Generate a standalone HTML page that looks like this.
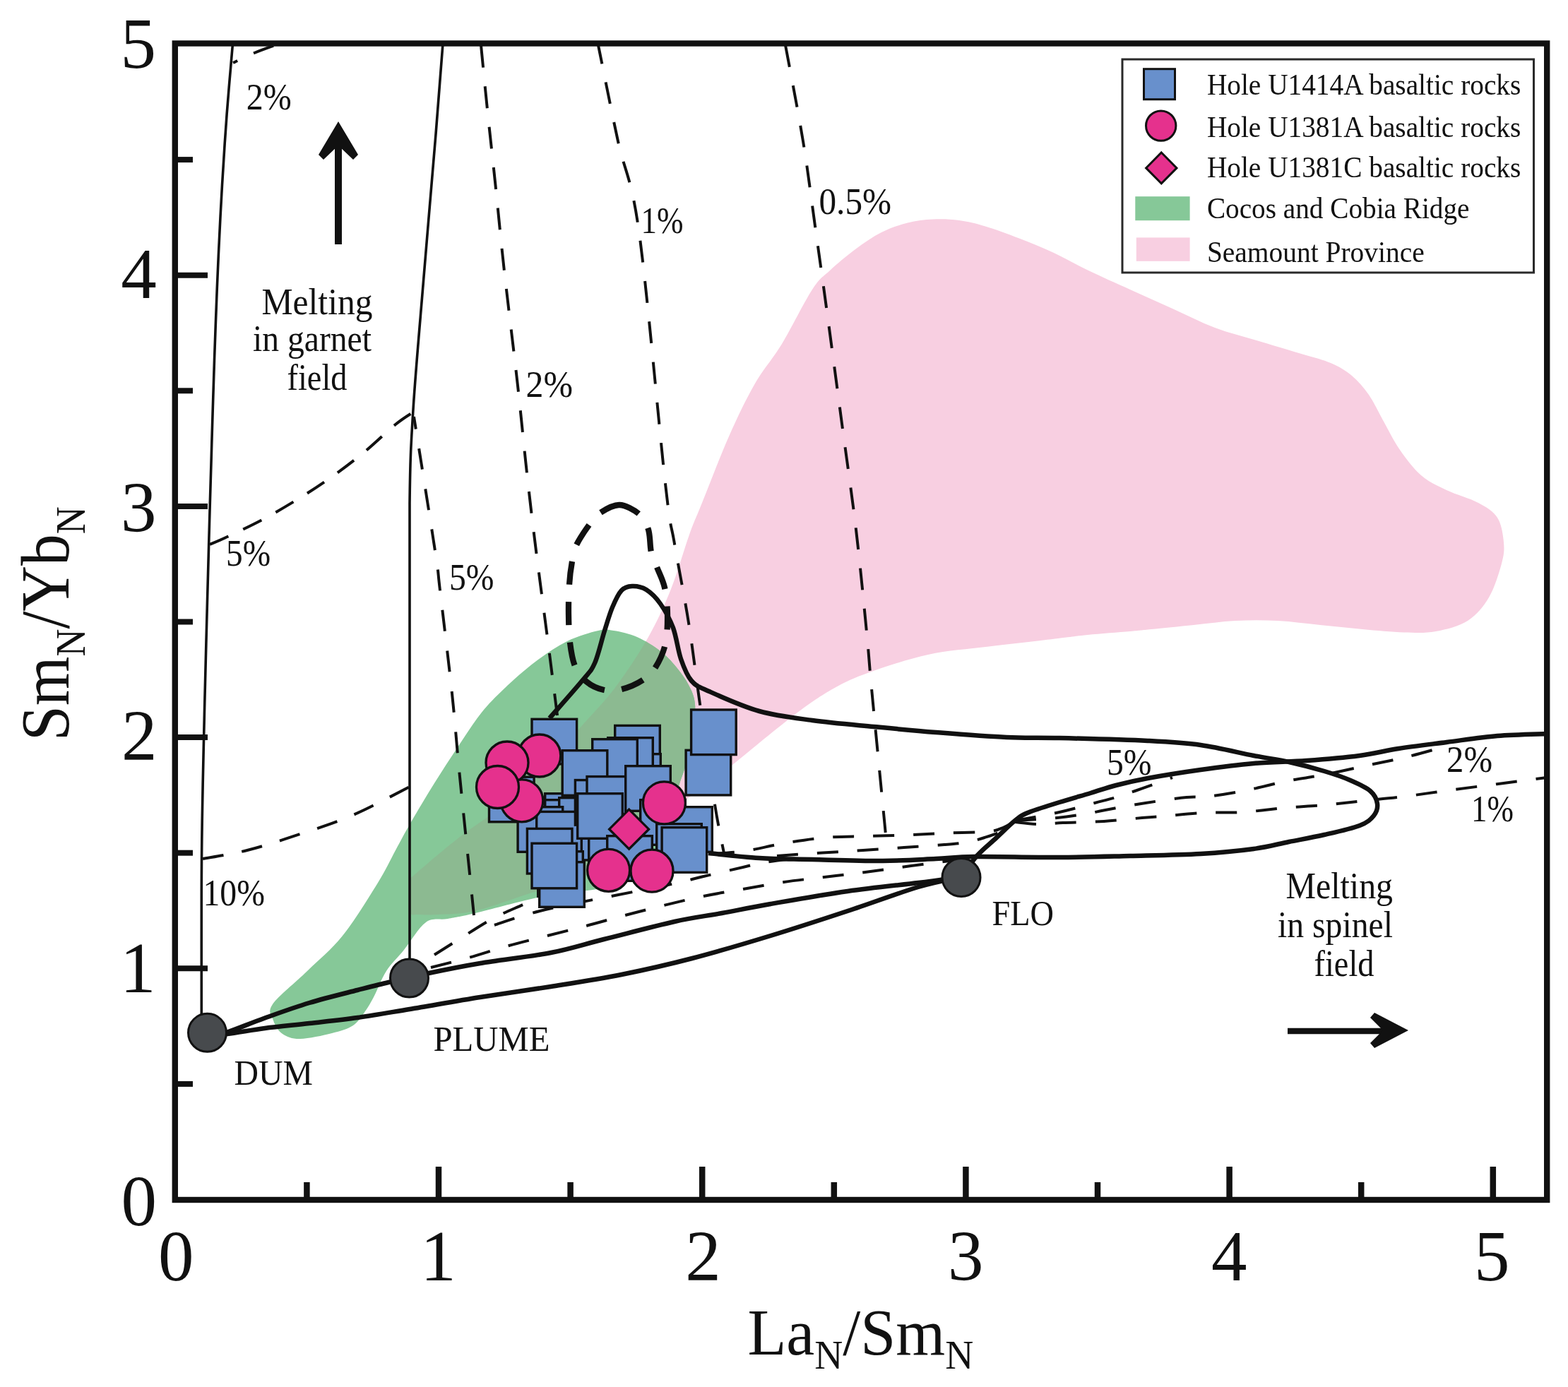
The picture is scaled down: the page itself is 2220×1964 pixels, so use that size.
<!DOCTYPE html>
<html><head><meta charset="utf-8"><title>La/Sm vs Sm/Yb</title>
<style>
html,body{margin:0;padding:0;background:#fff;}
svg{display:block;}
text{font-family:"Liberation Serif","Times New Roman",serif;fill:#111;}
</style></head><body>
<svg xmlns="http://www.w3.org/2000/svg" width="2220" height="1964" viewBox="0 0 2220 1964">
<rect width="2220" height="1964" fill="#fff"/>
<path d="M581.0,1293.0 C579.1,1288.8 580.5,1277.8 580.5,1270.0 C580.5,1262.2 579.4,1251.7 581.0,1246.0 C582.6,1240.3 577.7,1246.7 590.0,1236.0 C602.3,1225.3 630.8,1200.5 655.0,1182.0 C679.2,1163.5 712.5,1143.7 735.0,1125.0 C757.5,1106.3 775.8,1085.5 790.0,1070.0 C804.2,1054.5 806.7,1047.8 820.0,1032.0 C833.3,1016.2 853.7,996.7 870.0,975.0 C886.3,953.3 904.7,925.5 918.0,902.0 C931.3,878.5 940.3,858.2 950.0,834.0 C959.7,809.8 968.7,777.3 976.0,757.0 C983.3,736.7 984.7,735.2 994.0,712.0 C1003.3,688.8 1019.5,646.2 1032.0,618.0 C1044.5,589.8 1056.5,564.8 1069.0,543.0 C1081.5,521.2 1093.5,509.2 1107.0,487.0 C1120.5,464.8 1138.7,427.3 1150.0,410.0 C1161.3,392.7 1164.8,392.5 1175.0,383.0 C1185.2,373.5 1198.8,362.0 1211.0,353.0 C1223.2,344.0 1235.7,335.2 1248.0,329.0 C1260.3,322.8 1272.8,318.6 1285.0,315.5 C1297.2,312.4 1308.8,311.1 1321.0,310.5 C1333.2,309.9 1345.7,310.3 1358.0,312.0 C1370.3,313.7 1380.8,316.2 1395.0,320.5 C1409.2,324.8 1426.8,331.2 1443.0,337.5 C1459.2,343.8 1475.7,350.4 1492.0,358.0 C1508.3,365.6 1523.0,374.3 1541.0,383.0 C1559.0,391.7 1580.2,401.0 1600.0,410.0 C1619.8,419.0 1640.0,428.0 1660.0,437.0 C1680.0,446.0 1700.2,456.5 1720.0,464.0 C1739.8,471.5 1759.2,476.0 1779.0,482.0 C1798.8,488.0 1821.5,494.7 1839.0,500.0 C1856.5,505.3 1871.5,508.7 1884.0,514.0 C1896.5,519.3 1905.0,524.5 1914.0,532.0 C1923.0,539.5 1930.7,548.5 1938.0,559.0 C1945.3,569.5 1950.7,582.0 1958.0,595.0 C1965.3,608.0 1973.0,624.0 1982.0,637.0 C1991.0,650.0 2001.0,663.5 2012.0,673.0 C2023.0,682.5 2034.5,687.5 2048.0,694.0 C2061.5,700.5 2081.0,705.5 2093.0,712.0 C2105.0,718.5 2114.0,723.7 2120.0,733.0 C2126.0,742.3 2128.0,757.2 2129.0,768.0 C2130.0,778.8 2129.5,785.0 2126.0,798.0 C2122.5,811.0 2116.0,832.5 2108.0,846.0 C2100.0,859.5 2090.5,871.0 2078.0,879.0 C2065.5,887.0 2048.0,891.2 2033.0,894.0 C2018.0,896.8 2005.3,896.0 1988.0,895.5 C1970.7,895.0 1948.8,892.8 1929.0,891.0 C1909.2,889.2 1889.0,887.0 1869.0,885.0 C1849.0,883.0 1829.0,880.0 1809.0,879.0 C1789.0,878.0 1768.8,878.0 1749.0,879.0 C1729.2,880.0 1709.8,883.0 1690.0,885.0 C1670.2,887.0 1645.0,889.5 1630.0,891.0 C1615.0,892.5 1615.0,892.7 1600.0,894.0 C1585.0,895.3 1557.0,897.3 1540.0,899.0 C1523.0,900.7 1521.3,901.2 1498.0,904.0 C1474.7,906.8 1430.7,911.8 1400.0,915.6 C1369.3,919.4 1342.2,920.9 1314.0,927.0 C1285.8,933.1 1253.3,944.0 1231.0,952.0 C1208.7,960.0 1197.7,965.0 1180.0,975.0 C1162.3,985.0 1148.8,994.0 1125.0,1012.0 C1101.2,1030.0 1057.8,1066.3 1037.0,1083.0 C1016.2,1099.7 1011.5,1103.3 1000.0,1112.0 C988.5,1120.7 979.7,1125.3 968.0,1135.0 C956.3,1144.7 944.7,1156.7 930.0,1170.0 C915.3,1183.3 901.7,1201.7 880.0,1215.0 C858.3,1228.3 821.7,1241.7 800.0,1250.0 C778.3,1258.3 771.3,1258.3 750.0,1265.0 C728.7,1271.7 693.7,1285.0 672.0,1290.0 C650.3,1295.0 633.3,1294.2 620.0,1295.0 C606.7,1295.8 598.5,1295.3 592.0,1295.0 C585.5,1294.7 582.9,1297.2 581.0,1293.0Z" fill="#f8cfe1"/>
<defs><clipPath id="gclip"><path d="M386.0,1422.0 C394.0,1410.3 418.5,1391.2 435.0,1375.0 C451.5,1358.8 468.3,1345.8 485.0,1325.0 C501.7,1304.2 522.5,1270.2 535.0,1250.0 C547.5,1229.8 552.2,1218.3 560.0,1204.0 C567.8,1189.7 572.8,1179.8 582.0,1164.0 C591.2,1148.2 604.0,1126.7 615.0,1109.0 C626.0,1091.3 637.0,1074.5 648.0,1058.0 C659.0,1041.5 670.0,1023.8 681.0,1010.0 C692.0,996.2 701.2,987.2 714.0,975.0 C726.8,962.8 743.2,948.2 758.0,937.0 C772.8,925.8 788.2,915.3 803.0,908.0 C817.8,900.7 836.0,895.5 847.0,893.0 C858.0,890.5 859.8,891.5 869.0,893.0 C878.2,894.5 891.0,897.2 902.0,902.0 C913.0,906.8 925.8,915.0 935.0,922.0 C944.2,929.0 950.3,936.0 957.0,944.0 C963.7,952.0 970.5,961.2 975.0,970.0 C979.5,978.8 983.0,985.3 984.0,997.0 C985.0,1008.7 983.0,1026.2 981.0,1040.0 C979.0,1053.8 975.2,1068.3 972.0,1080.0 C968.8,1091.7 965.7,1098.3 962.0,1110.0 C958.3,1121.7 955.3,1135.0 950.0,1150.0 C944.7,1165.0 938.3,1185.0 930.0,1200.0 C921.7,1215.0 913.3,1230.3 900.0,1240.0 C886.7,1249.7 866.7,1254.0 850.0,1258.0 C833.3,1262.0 816.3,1261.5 800.0,1264.0 C783.7,1266.5 773.2,1268.2 752.0,1273.0 C730.8,1277.8 692.7,1288.3 673.0,1293.0 C653.3,1297.7 645.7,1298.8 634.0,1301.0 C622.3,1303.2 613.3,1298.7 603.0,1306.0 C592.7,1313.3 581.3,1333.5 572.0,1345.0 C562.7,1356.5 554.0,1364.2 547.0,1375.0 C540.0,1385.8 535.0,1400.5 530.0,1410.0 C525.0,1419.5 522.0,1425.0 517.0,1432.0 C512.0,1439.0 507.8,1446.8 500.0,1452.0 C492.2,1457.2 482.5,1459.8 470.0,1463.0 C457.5,1466.2 436.7,1470.8 425.0,1471.0 C413.3,1471.2 406.3,1468.3 400.0,1464.0 C393.7,1459.7 389.3,1452.0 387.0,1445.0 C384.7,1438.0 378.0,1433.7 386.0,1422.0Z"/></clipPath></defs>
<path d="M386.0,1422.0 C394.0,1410.3 418.5,1391.2 435.0,1375.0 C451.5,1358.8 468.3,1345.8 485.0,1325.0 C501.7,1304.2 522.5,1270.2 535.0,1250.0 C547.5,1229.8 552.2,1218.3 560.0,1204.0 C567.8,1189.7 572.8,1179.8 582.0,1164.0 C591.2,1148.2 604.0,1126.7 615.0,1109.0 C626.0,1091.3 637.0,1074.5 648.0,1058.0 C659.0,1041.5 670.0,1023.8 681.0,1010.0 C692.0,996.2 701.2,987.2 714.0,975.0 C726.8,962.8 743.2,948.2 758.0,937.0 C772.8,925.8 788.2,915.3 803.0,908.0 C817.8,900.7 836.0,895.5 847.0,893.0 C858.0,890.5 859.8,891.5 869.0,893.0 C878.2,894.5 891.0,897.2 902.0,902.0 C913.0,906.8 925.8,915.0 935.0,922.0 C944.2,929.0 950.3,936.0 957.0,944.0 C963.7,952.0 970.5,961.2 975.0,970.0 C979.5,978.8 983.0,985.3 984.0,997.0 C985.0,1008.7 983.0,1026.2 981.0,1040.0 C979.0,1053.8 975.2,1068.3 972.0,1080.0 C968.8,1091.7 965.7,1098.3 962.0,1110.0 C958.3,1121.7 955.3,1135.0 950.0,1150.0 C944.7,1165.0 938.3,1185.0 930.0,1200.0 C921.7,1215.0 913.3,1230.3 900.0,1240.0 C886.7,1249.7 866.7,1254.0 850.0,1258.0 C833.3,1262.0 816.3,1261.5 800.0,1264.0 C783.7,1266.5 773.2,1268.2 752.0,1273.0 C730.8,1277.8 692.7,1288.3 673.0,1293.0 C653.3,1297.7 645.7,1298.8 634.0,1301.0 C622.3,1303.2 613.3,1298.7 603.0,1306.0 C592.7,1313.3 581.3,1333.5 572.0,1345.0 C562.7,1356.5 554.0,1364.2 547.0,1375.0 C540.0,1385.8 535.0,1400.5 530.0,1410.0 C525.0,1419.5 522.0,1425.0 517.0,1432.0 C512.0,1439.0 507.8,1446.8 500.0,1452.0 C492.2,1457.2 482.5,1459.8 470.0,1463.0 C457.5,1466.2 436.7,1470.8 425.0,1471.0 C413.3,1471.2 406.3,1468.3 400.0,1464.0 C393.7,1459.7 389.3,1452.0 387.0,1445.0 C384.7,1438.0 378.0,1433.7 386.0,1422.0Z" fill="#86c898"/>
<path d="M581.0,1293.0 C579.1,1288.8 580.5,1277.8 580.5,1270.0 C580.5,1262.2 579.4,1251.7 581.0,1246.0 C582.6,1240.3 577.7,1246.7 590.0,1236.0 C602.3,1225.3 630.8,1200.5 655.0,1182.0 C679.2,1163.5 712.5,1143.7 735.0,1125.0 C757.5,1106.3 775.8,1085.5 790.0,1070.0 C804.2,1054.5 806.7,1047.8 820.0,1032.0 C833.3,1016.2 853.7,996.7 870.0,975.0 C886.3,953.3 904.7,925.5 918.0,902.0 C931.3,878.5 940.3,858.2 950.0,834.0 C959.7,809.8 968.7,777.3 976.0,757.0 C983.3,736.7 984.7,735.2 994.0,712.0 C1003.3,688.8 1019.5,646.2 1032.0,618.0 C1044.5,589.8 1056.5,564.8 1069.0,543.0 C1081.5,521.2 1093.5,509.2 1107.0,487.0 C1120.5,464.8 1138.7,427.3 1150.0,410.0 C1161.3,392.7 1164.8,392.5 1175.0,383.0 C1185.2,373.5 1198.8,362.0 1211.0,353.0 C1223.2,344.0 1235.7,335.2 1248.0,329.0 C1260.3,322.8 1272.8,318.6 1285.0,315.5 C1297.2,312.4 1308.8,311.1 1321.0,310.5 C1333.2,309.9 1345.7,310.3 1358.0,312.0 C1370.3,313.7 1380.8,316.2 1395.0,320.5 C1409.2,324.8 1426.8,331.2 1443.0,337.5 C1459.2,343.8 1475.7,350.4 1492.0,358.0 C1508.3,365.6 1523.0,374.3 1541.0,383.0 C1559.0,391.7 1580.2,401.0 1600.0,410.0 C1619.8,419.0 1640.0,428.0 1660.0,437.0 C1680.0,446.0 1700.2,456.5 1720.0,464.0 C1739.8,471.5 1759.2,476.0 1779.0,482.0 C1798.8,488.0 1821.5,494.7 1839.0,500.0 C1856.5,505.3 1871.5,508.7 1884.0,514.0 C1896.5,519.3 1905.0,524.5 1914.0,532.0 C1923.0,539.5 1930.7,548.5 1938.0,559.0 C1945.3,569.5 1950.7,582.0 1958.0,595.0 C1965.3,608.0 1973.0,624.0 1982.0,637.0 C1991.0,650.0 2001.0,663.5 2012.0,673.0 C2023.0,682.5 2034.5,687.5 2048.0,694.0 C2061.5,700.5 2081.0,705.5 2093.0,712.0 C2105.0,718.5 2114.0,723.7 2120.0,733.0 C2126.0,742.3 2128.0,757.2 2129.0,768.0 C2130.0,778.8 2129.5,785.0 2126.0,798.0 C2122.5,811.0 2116.0,832.5 2108.0,846.0 C2100.0,859.5 2090.5,871.0 2078.0,879.0 C2065.5,887.0 2048.0,891.2 2033.0,894.0 C2018.0,896.8 2005.3,896.0 1988.0,895.5 C1970.7,895.0 1948.8,892.8 1929.0,891.0 C1909.2,889.2 1889.0,887.0 1869.0,885.0 C1849.0,883.0 1829.0,880.0 1809.0,879.0 C1789.0,878.0 1768.8,878.0 1749.0,879.0 C1729.2,880.0 1709.8,883.0 1690.0,885.0 C1670.2,887.0 1645.0,889.5 1630.0,891.0 C1615.0,892.5 1615.0,892.7 1600.0,894.0 C1585.0,895.3 1557.0,897.3 1540.0,899.0 C1523.0,900.7 1521.3,901.2 1498.0,904.0 C1474.7,906.8 1430.7,911.8 1400.0,915.6 C1369.3,919.4 1342.2,920.9 1314.0,927.0 C1285.8,933.1 1253.3,944.0 1231.0,952.0 C1208.7,960.0 1197.7,965.0 1180.0,975.0 C1162.3,985.0 1148.8,994.0 1125.0,1012.0 C1101.2,1030.0 1057.8,1066.3 1037.0,1083.0 C1016.2,1099.7 1011.5,1103.3 1000.0,1112.0 C988.5,1120.7 979.7,1125.3 968.0,1135.0 C956.3,1144.7 944.7,1156.7 930.0,1170.0 C915.3,1183.3 901.7,1201.7 880.0,1215.0 C858.3,1228.3 821.7,1241.7 800.0,1250.0 C778.3,1258.3 771.3,1258.3 750.0,1265.0 C728.7,1271.7 693.7,1285.0 672.0,1290.0 C650.3,1295.0 633.3,1294.2 620.0,1295.0 C606.7,1295.8 598.5,1295.3 592.0,1295.0 C585.5,1294.7 582.9,1297.2 581.0,1293.0Z" fill="#8cba91" clip-path="url(#gclip)"/>
<path d="M329.5,62.0 C328.1,78.7 323.6,128.7 321.1,162.0 C318.6,195.3 316.5,228.7 314.5,262.0 C312.5,295.3 310.9,328.7 309.3,362.0 C307.8,395.3 306.4,428.7 305.2,462.0 C303.9,495.3 302.9,528.7 301.8,562.0 C300.7,595.3 299.8,628.7 298.8,662.0 C297.8,695.3 296.8,728.7 295.9,762.0 C295.0,795.3 294.1,828.7 293.2,862.0 C292.3,895.3 291.4,928.7 290.6,962.0 C289.8,995.3 288.9,1028.7 288.2,1062.0 C287.5,1095.3 286.7,1128.7 286.2,1162.0 C285.7,1195.3 285.4,1215.7 285.3,1262.0 C285.2,1308.3 285.3,1410.3 285.3,1440.0" fill="none" stroke="#111" stroke-width="3.6" stroke-linecap="butt"/>
<path d="M627.0,62.0 C625.3,83.3 621.5,135.0 617.0,190.0 C612.5,245.0 605.3,327.0 600.0,392.0 C594.7,457.0 588.3,526.5 585.0,580.0 C581.7,633.5 580.8,646.0 580.0,713.0 C579.2,780.0 580.0,874.2 580.0,982.0 C580.0,1089.8 580.0,1297.0 580.0,1360.0" fill="none" stroke="#111" stroke-width="3.6" stroke-linecap="butt"/>
<path d="M681.0,64.0 C682.5,79.2 686.5,121.2 690.0,155.0 C693.5,188.8 698.0,228.8 702.0,267.0 C706.0,305.2 708.8,337.5 714.0,384.0 C719.2,430.5 727.7,498.3 733.0,546.0 C738.3,593.7 741.7,631.0 746.0,670.0 C750.3,709.0 754.3,742.5 759.0,780.0 C763.7,817.5 769.3,858.8 774.0,895.0 C778.7,931.2 783.5,969.5 787.0,997.0 C790.5,1024.5 793.7,1049.5 795.0,1060.0" fill="none" stroke="#111" stroke-width="4" stroke-dasharray="31 26.7" stroke-dashoffset="56.8"/>
<path d="M586.0,590.0 C591.0,621.7 609.8,739.0 616.0,780.0 C622.2,821.0 619.0,802.3 623.0,836.0 C627.0,869.7 635.3,938.0 640.0,982.0 C644.7,1026.0 645.8,1047.7 651.0,1100.0 C656.2,1152.3 667.7,1263.3 671.0,1296.0" fill="none" stroke="#111" stroke-width="4" stroke-dasharray="30 27.8" stroke-dashoffset="12.0"/>
<path d="M847.0,64.0 C851.7,86.7 865.3,155.7 875.0,200.0 C884.7,244.3 893.8,249.2 905.0,330.0 C916.2,410.8 933.7,611.7 942.0,685.0 C950.3,758.3 949.5,737.2 955.0,770.0 C960.5,802.8 969.0,844.2 975.0,882.0 C981.0,919.8 984.8,954.2 991.0,997.0 C997.2,1039.8 1006.3,1103.8 1012.0,1139.0 C1017.7,1174.2 1022.8,1196.5 1025.0,1208.0" fill="none" stroke="#111" stroke-width="4" stroke-dasharray="31 26.5" stroke-dashoffset="3.9"/>
<path d="M1112.0,64.0 C1116.2,86.7 1130.0,157.3 1137.0,200.0 C1144.0,242.7 1148.2,278.3 1154.0,320.0 C1159.8,361.7 1165.7,403.3 1172.0,450.0 C1178.3,496.7 1185.3,550.0 1192.0,600.0 C1198.7,650.0 1206.2,700.8 1212.0,750.0 C1217.8,799.2 1223.3,857.5 1227.0,895.0 C1230.7,932.5 1229.5,927.2 1234.0,975.0 C1238.5,1022.8 1250.7,1147.5 1254.0,1182.0" fill="none" stroke="#111" stroke-width="4" stroke-dasharray="31 26.5" stroke-dashoffset="56.8"/>
<path d="M330.0,89.0 C335.0,86.7 349.7,79.3 360.0,75.0 C370.3,70.7 386.7,65.0 392.0,63.0" fill="none" stroke="#111" stroke-width="4" stroke-dasharray="7 25 30 27"/>
<path d="M297.0,771.0 C301.2,769.2 309.3,766.0 322.0,760.0 C334.7,754.0 356.2,744.0 373.0,735.0 C389.8,726.0 406.8,716.0 423.0,706.0 C439.2,696.0 454.5,686.0 470.0,675.0 C485.5,664.0 501.0,652.3 516.0,640.0 C531.0,627.7 548.3,610.5 560.0,601.0 C571.7,591.5 581.7,586.0 586.0,583.0" fill="none" stroke="#111" stroke-width="4" stroke-dasharray="29 23" stroke-dashoffset="0.0"/>
<path d="M287.0,1216.0 C297.5,1214.0 327.0,1209.8 350.0,1204.0 C373.0,1198.2 400.0,1189.3 425.0,1181.0 C450.0,1172.7 474.2,1165.2 500.0,1154.0 C525.8,1142.8 566.7,1120.7 580.0,1114.0" fill="none" stroke="#111" stroke-width="4" stroke-dasharray="30 26" stroke-dashoffset="0.0"/>
<path d="M615.0,1352.0 C620.8,1348.3 636.0,1338.7 650.0,1330.0 C664.0,1321.3 682.2,1309.0 699.0,1300.0 C715.8,1291.0 734.2,1284.3 751.0,1276.0 C767.8,1267.7 791.8,1254.3 800.0,1250.0" fill="none" stroke="#111" stroke-width="4" stroke-dasharray="30 27"/>
<path d="M610.0,1370.0 C619.0,1367.7 646.2,1361.0 664.0,1356.0 C681.8,1351.0 698.5,1345.2 717.0,1340.0 C735.5,1334.8 756.2,1329.8 775.0,1325.0 C793.8,1320.2 811.7,1315.8 830.0,1311.0 C848.3,1306.2 866.7,1300.8 885.0,1296.0 C903.3,1291.2 921.5,1286.5 940.0,1282.0 C958.5,1277.5 977.3,1272.8 996.0,1269.0 C1014.7,1265.2 1033.0,1262.3 1052.0,1259.0 C1071.0,1255.7 1090.8,1251.8 1110.0,1249.0 C1129.2,1246.2 1147.8,1244.3 1167.0,1242.0 C1186.2,1239.7 1204.5,1237.7 1225.0,1235.0 C1245.5,1232.3 1267.3,1229.0 1290.0,1226.0 C1312.7,1223.0 1349.2,1218.5 1361.0,1217.0" fill="none" stroke="#111" stroke-width="4" stroke-dasharray="30 27"/>
<path d="M700.0,1310.0 C707.7,1307.5 729.3,1299.7 746.0,1295.0 C762.7,1290.3 767.5,1288.8 800.0,1282.0 C832.5,1275.2 908.3,1260.8 941.0,1254.0 C973.7,1247.2 977.5,1245.3 996.0,1241.0 C1014.5,1236.7 1037.5,1231.3 1052.0,1228.0 C1066.5,1224.7 1068.3,1223.3 1083.0,1221.0 C1097.7,1218.7 1130.5,1215.2 1140.0,1214.0" fill="none" stroke="#111" stroke-width="4" stroke-dasharray="30 27"/>
<path d="M1010.0,1209.0 C1017.5,1208.3 1038.2,1207.5 1055.0,1205.0 C1071.8,1202.5 1092.0,1197.2 1111.0,1194.0 C1130.0,1190.8 1149.8,1187.7 1169.0,1186.0 C1188.2,1184.3 1206.8,1184.6 1226.0,1184.0 C1245.2,1183.4 1264.8,1183.2 1284.0,1182.5 C1303.2,1181.8 1321.8,1180.3 1341.0,1179.5 C1360.2,1178.7 1385.8,1178.8 1399.0,1177.5 C1412.2,1176.2 1413.7,1174.4 1420.0,1172.0 C1426.3,1169.6 1434.2,1164.5 1437.0,1163.0" fill="none" stroke="#111" stroke-width="4" stroke-dasharray="30 27"/>
<path d="M1100.0,1212.0 C1110.8,1211.2 1144.7,1208.8 1165.0,1207.5 C1185.3,1206.2 1202.8,1205.2 1222.0,1204.0 C1241.2,1202.8 1260.8,1201.3 1280.0,1200.0 C1299.2,1198.7 1322.2,1197.2 1337.0,1196.0 C1351.8,1194.8 1359.5,1194.2 1369.0,1192.5 C1378.5,1190.8 1385.8,1188.6 1394.0,1186.0 C1402.2,1183.4 1410.8,1180.8 1418.0,1177.0 C1425.2,1173.2 1433.8,1165.3 1437.0,1163.0" fill="none" stroke="#111" stroke-width="4" stroke-dasharray="30 27"/>
<path d="M1437.0,1164.0 C1442.5,1164.5 1458.7,1166.8 1470.0,1167.0 C1481.3,1167.2 1489.5,1165.7 1505.0,1165.0 C1520.5,1164.3 1544.3,1164.2 1563.0,1163.0 C1581.7,1161.8 1603.3,1159.2 1617.0,1158.0 C1630.7,1156.8 1630.8,1157.2 1645.0,1156.0 C1659.2,1154.8 1682.8,1152.0 1702.0,1151.0 C1721.2,1150.0 1740.8,1151.2 1760.0,1150.0 C1779.2,1148.8 1797.8,1145.7 1817.0,1144.0 C1836.2,1142.3 1856.2,1141.7 1875.0,1140.0 C1893.8,1138.3 1911.3,1136.0 1930.0,1134.0 C1948.7,1132.0 1965.3,1130.7 1987.0,1128.0 C2008.7,1125.3 2026.2,1122.5 2060.0,1118.0 C2093.8,1113.5 2168.3,1103.8 2190.0,1101.0" fill="none" stroke="#111" stroke-width="4" stroke-dasharray="30 27"/>
<path d="M1437.0,1162.0 C1447.0,1161.3 1479.8,1159.7 1497.0,1158.0 C1514.2,1156.3 1528.7,1153.8 1540.0,1152.0 C1551.3,1150.2 1551.3,1149.5 1565.0,1147.0 C1578.7,1144.5 1602.8,1140.0 1622.0,1137.0 C1641.2,1134.0 1665.3,1130.5 1680.0,1129.0 C1694.7,1127.5 1695.8,1129.7 1710.0,1128.0 C1724.2,1126.3 1746.3,1122.7 1765.0,1119.0 C1783.7,1115.3 1803.7,1109.7 1822.0,1106.0 C1840.3,1102.3 1856.2,1100.7 1875.0,1097.0 C1893.8,1093.3 1915.7,1088.2 1935.0,1084.0 C1954.3,1079.8 1973.0,1076.3 1991.0,1072.0 C2009.0,1067.7 2034.3,1060.3 2043.0,1058.0" fill="none" stroke="#111" stroke-width="4" stroke-dasharray="30 27"/>
<path d="M1437.0,1162.0 C1447.5,1160.0 1481.2,1154.2 1500.0,1150.0 C1518.8,1145.8 1536.7,1140.5 1550.0,1137.0 C1563.3,1133.5 1570.5,1131.8 1580.0,1129.0 C1589.5,1126.2 1597.8,1123.2 1607.0,1120.0 C1616.2,1116.8 1626.2,1113.2 1635.0,1110.0 C1643.8,1106.8 1655.8,1102.5 1660.0,1101.0" fill="none" stroke="#111" stroke-width="4" stroke-dasharray="30 27"/>
<path d="M306.0,1464.0 C308.7,1463.6 310.5,1465.2 322.0,1461.5 C333.5,1457.8 355.7,1448.4 375.0,1441.5 C394.3,1434.6 416.2,1426.6 438.0,1420.0 C459.8,1413.4 487.3,1406.8 506.0,1402.0 C524.7,1397.2 537.7,1393.8 550.0,1391.0 C562.3,1388.2 575.0,1386.0 580.0,1385.0" fill="none" stroke="#111" stroke-width="6.5" stroke-linejoin="round"/>
<path d="M580.0,1385.0 C584.5,1383.8 590.3,1381.5 607.0,1378.0 C623.7,1374.5 651.2,1368.8 680.0,1364.0 C708.8,1359.2 750.8,1354.7 780.0,1349.0 C809.2,1343.3 825.8,1337.3 855.0,1330.0 C884.2,1322.7 927.2,1311.2 955.0,1305.0 C982.8,1298.8 999.3,1297.2 1022.0,1293.0 C1044.7,1288.8 1061.3,1285.2 1091.0,1280.0 C1120.7,1274.8 1165.2,1267.0 1200.0,1262.0 C1234.8,1257.0 1273.2,1253.3 1300.0,1250.0 C1326.8,1246.7 1350.8,1243.3 1361.0,1242.0" fill="none" stroke="#111" stroke-width="6.5" stroke-linejoin="round"/>
<path d="M300.0,1464.0 C303.7,1464.0 309.5,1465.3 322.0,1464.0 C334.5,1462.7 355.7,1458.5 375.0,1456.0 C394.3,1453.5 416.2,1451.5 438.0,1449.0 C459.8,1446.5 482.3,1444.3 506.0,1441.0 C529.7,1437.7 551.0,1433.8 580.0,1429.0 C609.0,1424.2 646.7,1417.3 680.0,1412.0 C713.3,1406.7 746.7,1402.3 780.0,1397.0 C813.3,1391.7 846.7,1386.7 880.0,1380.0 C913.3,1373.3 944.8,1366.2 980.0,1357.0 C1015.2,1347.8 1054.3,1336.2 1091.0,1325.0 C1127.7,1313.8 1165.2,1301.5 1200.0,1290.0 C1234.8,1278.5 1273.2,1264.0 1300.0,1256.0 C1326.8,1248.0 1350.8,1244.3 1361.0,1242.0" fill="none" stroke="#111" stroke-width="6.5" stroke-linejoin="round"/>
<path d="M778.0,1017.0 C785.8,1008.0 814.3,976.0 825.0,963.0 C835.7,950.0 836.8,950.7 842.0,939.0 C847.2,927.3 851.8,906.2 856.0,893.0 C860.2,879.8 863.0,869.5 867.0,860.0 C871.0,850.5 875.3,841.0 880.0,836.0 C884.7,831.0 889.2,830.2 895.0,830.0 C900.8,829.8 908.3,830.8 915.0,835.0 C921.7,839.2 928.7,846.0 935.0,855.0 C941.3,864.0 948.2,876.0 953.0,889.0 C957.8,902.0 959.7,920.5 964.0,933.0 C968.3,945.5 972.3,956.3 979.0,964.0 C985.7,971.7 988.0,971.8 1004.0,979.0 C1020.0,986.2 1050.7,1000.2 1075.0,1007.0 C1099.3,1013.8 1123.0,1016.3 1150.0,1020.0 C1177.0,1023.7 1207.8,1026.2 1237.0,1029.0 C1266.2,1031.8 1293.7,1034.5 1325.0,1037.0 C1356.3,1039.5 1395.8,1042.7 1425.0,1044.0 C1454.2,1045.3 1466.7,1044.2 1500.0,1045.0 C1533.3,1045.8 1591.7,1047.3 1625.0,1049.0 C1658.3,1050.7 1675.0,1051.5 1700.0,1055.0 C1725.0,1058.5 1754.2,1066.0 1775.0,1070.0 C1795.8,1074.0 1808.3,1075.3 1825.0,1079.0 C1841.7,1082.7 1860.5,1087.7 1875.0,1092.0 C1889.5,1096.3 1901.2,1100.3 1912.0,1105.0 C1922.8,1109.7 1933.7,1114.5 1940.0,1120.0 C1946.3,1125.5 1949.2,1132.2 1950.0,1138.0 C1950.8,1143.8 1949.2,1149.8 1945.0,1155.0 C1940.8,1160.2 1936.7,1164.5 1925.0,1169.0 C1913.3,1173.5 1891.7,1178.2 1875.0,1182.0 C1858.3,1185.8 1841.7,1188.7 1825.0,1192.0 C1808.3,1195.3 1795.8,1199.2 1775.0,1202.0 C1754.2,1204.8 1729.2,1207.3 1700.0,1209.0 C1670.8,1210.7 1633.3,1211.2 1600.0,1212.0 C1566.7,1212.8 1536.7,1213.8 1500.0,1214.0 C1463.3,1214.2 1409.2,1212.7 1380.0,1213.0 C1350.8,1213.3 1346.7,1215.0 1325.0,1216.0 C1303.3,1217.0 1279.2,1218.8 1250.0,1219.0 C1220.8,1219.2 1179.2,1217.7 1150.0,1217.0 C1120.8,1216.3 1099.5,1216.5 1075.0,1215.0 C1050.5,1213.5 1015.0,1209.2 1003.0,1208.0" fill="none" stroke="#111" stroke-width="6.5" stroke-linejoin="round"/>
<path d="M1361.0,1242.0 C1364.7,1237.0 1374.8,1221.2 1383.0,1212.0 C1391.2,1202.8 1401.0,1195.3 1410.0,1187.0 C1419.0,1178.7 1429.3,1168.1 1437.0,1162.0 C1444.7,1155.9 1445.5,1154.8 1456.0,1150.5 C1466.5,1146.2 1485.3,1140.6 1500.0,1136.0 C1514.7,1131.4 1530.7,1127.0 1544.0,1123.0 C1557.3,1119.0 1566.5,1115.5 1580.0,1112.0 C1593.5,1108.5 1605.0,1105.7 1625.0,1102.0 C1645.0,1098.3 1675.0,1093.5 1700.0,1090.0 C1725.0,1086.5 1750.0,1083.2 1775.0,1081.0 C1800.0,1078.8 1825.0,1078.8 1850.0,1077.0 C1875.0,1075.2 1903.3,1072.8 1925.0,1070.0 C1946.7,1067.2 1959.5,1063.2 1980.0,1060.0 C2000.5,1056.8 2024.7,1054.0 2048.0,1051.0 C2071.3,1048.0 2096.3,1044.0 2120.0,1042.0 C2143.7,1040.0 2178.3,1039.5 2190.0,1039.0" fill="none" stroke="#111" stroke-width="6.5" stroke-linejoin="round"/>
<path d="M877.0,715.0 C886.2,715.3 898.2,722.2 905.0,728.0 C911.8,733.8 915.2,741.0 918.0,750.0 C920.8,759.0 920.0,773.2 922.0,782.0 C924.0,790.8 926.8,794.7 930.0,803.0 C933.2,811.3 938.5,820.8 941.0,832.0 C943.5,843.2 944.8,856.7 945.0,870.0 C945.2,883.3 944.8,899.5 942.0,912.0 C939.2,924.5 933.3,936.5 928.0,945.0 C922.7,953.5 918.0,957.8 910.0,963.0 C902.0,968.2 889.2,973.7 880.0,976.0 C870.8,978.3 863.3,978.8 855.0,977.0 C846.7,975.2 836.8,970.7 830.0,965.0 C823.2,959.3 817.8,952.2 814.0,943.0 C810.2,933.8 808.5,922.2 807.0,910.0 C805.5,897.8 805.2,883.7 805.0,870.0 C804.8,856.3 805.2,840.5 806.0,828.0 C806.8,815.5 808.3,804.3 810.0,795.0 C811.7,785.7 811.8,780.8 816.0,772.0 C820.2,763.2 829.3,749.7 835.0,742.0 C840.7,734.3 843.0,730.5 850.0,726.0 C857.0,721.5 867.8,714.7 877.0,715.0Z" fill="none" stroke="#111" stroke-width="8.3" stroke-dasharray="33 24.5" stroke-dashoffset="2.7"/>
<line x1="479" y1="346" x2="479" y2="200" stroke="#111" stroke-width="10"/>
<path d="M479,172 L507,219 L500,226 L479,206 L458,226 L451,219 Z" fill="#111"/>
<line x1="1823" y1="1460" x2="1965" y2="1460" stroke="#111" stroke-width="8.5"/>
<path d="M1994,1459 L1946,1484 L1940,1477 L1958,1459 L1940,1441 L1946,1434 Z" fill="#111"/>
<rect x="771.7" y="1123.7" width="63.6" height="63.6" fill="#6890cc" stroke="#111" stroke-width="3.4"/>
<rect x="771.7" y="1132.7" width="63.6" height="63.6" fill="#6890cc" stroke="#111" stroke-width="3.4"/>
<rect x="791.7" y="1129.7" width="63.6" height="63.6" fill="#6890cc" stroke="#111" stroke-width="3.4"/>
<rect x="692.5" y="1100.2" width="63.6" height="63.6" fill="#6890cc" stroke="#111" stroke-width="3.4"/>
<rect x="733.1" y="1142.7" width="63.6" height="63.6" fill="#6890cc" stroke="#111" stroke-width="3.4"/>
<rect x="791.7" y="1154.3" width="63.6" height="63.6" fill="#6890cc" stroke="#111" stroke-width="3.4"/>
<rect x="833.7" y="1161.7" width="63.6" height="63.6" fill="#6890cc" stroke="#111" stroke-width="3.4"/>
<rect x="759.7" y="1149.4" width="63.6" height="63.6" fill="#6890cc" stroke="#111" stroke-width="3.4"/>
<rect x="746.4" y="1173.4" width="63.6" height="63.6" fill="#6890cc" stroke="#111" stroke-width="3.4"/>
<rect x="761.7" y="1205.7" width="63.6" height="63.6" fill="#6890cc" stroke="#111" stroke-width="3.4"/>
<rect x="763.7" y="1220.7" width="63.6" height="63.6" fill="#6890cc" stroke="#111" stroke-width="3.4"/>
<rect x="753.0" y="1194.2" width="63.6" height="63.6" fill="#6890cc" stroke="#111" stroke-width="3.4"/>
<rect x="753.0" y="1018.3" width="63.6" height="63.6" fill="#6890cc" stroke="#111" stroke-width="3.4"/>
<rect x="870.7" y="1027.4" width="63.6" height="63.6" fill="#6890cc" stroke="#111" stroke-width="3.4"/>
<rect x="871.7" y="1067.7" width="63.6" height="63.6" fill="#6890cc" stroke="#111" stroke-width="3.4"/>
<rect x="860.7" y="1044.7" width="63.6" height="63.6" fill="#6890cc" stroke="#111" stroke-width="3.4"/>
<rect x="838.7" y="1046.7" width="63.6" height="63.6" fill="#6890cc" stroke="#111" stroke-width="3.4"/>
<rect x="796.2" y="1062.7" width="63.6" height="63.6" fill="#6890cc" stroke="#111" stroke-width="3.4"/>
<rect x="814.4" y="1104.6" width="63.6" height="63.6" fill="#6890cc" stroke="#111" stroke-width="3.4"/>
<rect x="831.0" y="1099.6" width="63.6" height="63.6" fill="#6890cc" stroke="#111" stroke-width="3.4"/>
<rect x="885.7" y="1084.7" width="63.6" height="63.6" fill="#6890cc" stroke="#111" stroke-width="3.4"/>
<rect x="817.7" y="1123.7" width="63.6" height="63.6" fill="#6890cc" stroke="#111" stroke-width="3.4"/>
<rect x="906.7" y="1132.7" width="63.6" height="63.6" fill="#6890cc" stroke="#111" stroke-width="3.4"/>
<rect x="929.7" y="1149.4" width="63.6" height="63.6" fill="#6890cc" stroke="#111" stroke-width="3.4"/>
<rect x="944.7" y="1142.7" width="63.6" height="63.6" fill="#6890cc" stroke="#111" stroke-width="3.4"/>
<rect x="859.7" y="1183.7" width="63.6" height="63.6" fill="#6890cc" stroke="#111" stroke-width="3.4"/>
<rect x="929.7" y="1166.7" width="63.6" height="63.6" fill="#6890cc" stroke="#111" stroke-width="3.4"/>
<rect x="937.1" y="1171.7" width="63.6" height="63.6" fill="#6890cc" stroke="#111" stroke-width="3.4"/>
<rect x="971.1" y="1062.3" width="63.6" height="63.6" fill="#6890cc" stroke="#111" stroke-width="3.4"/>
<rect x="978.6" y="1005.0" width="63.6" height="63.6" fill="#6890cc" stroke="#111" stroke-width="3.4"/>
<circle cx="763.8" cy="1070.0" r="30" fill="#e5318d" stroke="#111" stroke-width="3.3"/>
<circle cx="718.0" cy="1080.0" r="30" fill="#e5318d" stroke="#111" stroke-width="3.3"/>
<circle cx="738.8" cy="1133.8" r="30" fill="#e5318d" stroke="#111" stroke-width="3.3"/>
<circle cx="704.5" cy="1114.5" r="30" fill="#e5318d" stroke="#111" stroke-width="3.3"/>
<circle cx="940.4" cy="1136.9" r="30" fill="#e5318d" stroke="#111" stroke-width="3.3"/>
<path d="M890.6,1146.2 L918.6,1174.2 L890.6,1202.2 L862.6,1174.2 Z" fill="#e5318d" stroke="#111" stroke-width="3.3" stroke-linejoin="miter"/>
<circle cx="861.6" cy="1232.3" r="30" fill="#e5318d" stroke="#111" stroke-width="3.3"/>
<circle cx="923.0" cy="1233.2" r="30" fill="#e5318d" stroke="#111" stroke-width="3.3"/>
<circle cx="293.5" cy="1462.3" r="27" fill="#474a4d" stroke="#111" stroke-width="3"/>
<circle cx="579.5" cy="1385.0" r="27" fill="#474a4d" stroke="#111" stroke-width="3"/>
<circle cx="1361.0" cy="1242.5" r="27" fill="#474a4d" stroke="#111" stroke-width="3"/>
<rect x="247.8" y="61.5" width="1942.4" height="1637.5" fill="none" stroke="#111" stroke-width="8.4"/>
<line x1="248" y1="1534.9" x2="273.0" y2="1534.9" stroke="#111" stroke-width="8"/>
<line x1="248" y1="1371.3" x2="294.0" y2="1371.3" stroke="#111" stroke-width="8"/>
<line x1="248" y1="1207.7" x2="273.0" y2="1207.7" stroke="#111" stroke-width="8"/>
<line x1="248" y1="1044.1" x2="294.0" y2="1044.1" stroke="#111" stroke-width="8"/>
<line x1="248" y1="880.5" x2="273.0" y2="880.5" stroke="#111" stroke-width="8"/>
<line x1="248" y1="716.9" x2="294.0" y2="716.9" stroke="#111" stroke-width="8"/>
<line x1="248" y1="553.3" x2="273.0" y2="553.3" stroke="#111" stroke-width="8"/>
<line x1="248" y1="389.7" x2="294.0" y2="389.7" stroke="#111" stroke-width="8"/>
<line x1="248" y1="226.1" x2="273.0" y2="226.1" stroke="#111" stroke-width="8"/>
<line x1="434.4" y1="1699" x2="434.4" y2="1674.0" stroke="#111" stroke-width="8.5"/>
<line x1="621.0" y1="1699" x2="621.0" y2="1652.0" stroke="#111" stroke-width="8.5"/>
<line x1="807.6" y1="1699" x2="807.6" y2="1674.0" stroke="#111" stroke-width="8.5"/>
<line x1="994.2" y1="1699" x2="994.2" y2="1652.0" stroke="#111" stroke-width="8.5"/>
<line x1="1180.8" y1="1699" x2="1180.8" y2="1674.0" stroke="#111" stroke-width="8.5"/>
<line x1="1367.4" y1="1699" x2="1367.4" y2="1652.0" stroke="#111" stroke-width="8.5"/>
<line x1="1554.0" y1="1699" x2="1554.0" y2="1674.0" stroke="#111" stroke-width="8.5"/>
<line x1="1740.6" y1="1699" x2="1740.6" y2="1652.0" stroke="#111" stroke-width="8.5"/>
<line x1="1927.2" y1="1699" x2="1927.2" y2="1674.0" stroke="#111" stroke-width="8.5"/>
<line x1="2113.8" y1="1699" x2="2113.8" y2="1652.0" stroke="#111" stroke-width="8.5"/>
<rect x="1589" y="84" width="582.5" height="302" fill="#fff" stroke="#2a2a2a" stroke-width="3"/>
<rect x="1619.5" y="97.7" width="44" height="43" fill="#6890cc" stroke="#111" stroke-width="3"/>
<circle cx="1643.7" cy="178.1" r="21.2" fill="#e5318d" stroke="#111" stroke-width="3"/>
<path d="M1644.3,216 L1666,237.9 L1644.3,259.8 L1622.6,237.9 Z" fill="#e5318d" stroke="#111" stroke-width="3"/>
<rect x="1607.3" y="278.2" width="77.3" height="34" fill="#86c898"/>
<rect x="1608.8" y="336.4" width="75.8" height="33.4" fill="#f8cfe1"/>
<text x="196.7" y="1735.4" font-size="101.0" text-anchor="middle">0</text>
<text x="195.3" y="1404.6" font-size="101.0" text-anchor="middle">1</text>
<text x="197.3" y="1076.2" font-size="101.0" text-anchor="middle">2</text>
<text x="196.3" y="752.8" font-size="101.0" text-anchor="middle">3</text>
<text x="196.5" y="421.7" font-size="101.0" text-anchor="middle">4</text>
<text x="195.7" y="95.7" font-size="101.0" text-anchor="middle">5</text>
<text x="249.2" y="1813.2" font-size="101.0" text-anchor="middle">0</text>
<text x="620.6" y="1813.2" font-size="101.0" text-anchor="middle">1</text>
<text x="995.4" y="1813.2" font-size="101.0" text-anchor="middle">2</text>
<text x="1367.2" y="1813.2" font-size="101.0" text-anchor="middle">3</text>
<text x="1740.2" y="1813.2" font-size="101.0" text-anchor="middle">4</text>
<text x="2112.2" y="1813.2" font-size="101.0" text-anchor="middle">5</text>
<text x="1708.9" y="134.1" font-size="41.7" text-anchor="start" textLength="444.4" lengthAdjust="spacingAndGlyphs">Hole U1414A basaltic rocks</text>
<text x="1708.9" y="193.9" font-size="41.7" text-anchor="start" textLength="444.4" lengthAdjust="spacingAndGlyphs">Hole U1381A basaltic rocks</text>
<text x="1708.9" y="250.9" font-size="41.7" text-anchor="start" textLength="444.4" lengthAdjust="spacingAndGlyphs">Hole U1381C basaltic rocks</text>
<text x="1708.9" y="309.2" font-size="41.7" text-anchor="start" textLength="371.6" lengthAdjust="spacingAndGlyphs">Cocos and Cobia Ridge</text>
<text x="1708.9" y="370.7" font-size="41.7" text-anchor="start" textLength="307.9" lengthAdjust="spacingAndGlyphs">Seamount Province</text>
<text x="370.5" y="445.0" font-size="52.0" text-anchor="start" textLength="157.0" lengthAdjust="spacingAndGlyphs">Melting</text>
<text x="358.0" y="496.5" font-size="52.0" text-anchor="start" textLength="168.0" lengthAdjust="spacingAndGlyphs">in garnet</text>
<text x="406.5" y="551.5" font-size="52.0" text-anchor="start" textLength="85.0" lengthAdjust="spacingAndGlyphs">field</text>
<text x="1820.5" y="1271.5" font-size="52.0" text-anchor="start" textLength="151.5" lengthAdjust="spacingAndGlyphs">Melting</text>
<text x="1809.0" y="1326.5" font-size="52.0" text-anchor="start" textLength="163.0" lengthAdjust="spacingAndGlyphs">in spinel</text>
<text x="1860.5" y="1381.5" font-size="52.0" text-anchor="start" textLength="85.0" lengthAdjust="spacingAndGlyphs">field</text>
<text x="331.4" y="1536.3" font-size="51.0" text-anchor="start" textLength="111.5" lengthAdjust="spacingAndGlyphs">DUM</text>
<text x="613.5" y="1487.5" font-size="50.5" text-anchor="start" textLength="165.0" lengthAdjust="spacingAndGlyphs">PLUME</text>
<text x="1404.5" y="1310.0" font-size="51.0" text-anchor="start" textLength="87.5" lengthAdjust="spacingAndGlyphs">FLO</text>
<text x="348.8" y="155.0" font-size="52.0" text-anchor="start" textLength="64.0" lengthAdjust="spacingAndGlyphs">2%</text>
<text x="320.0" y="801.0" font-size="52.0" text-anchor="start" textLength="63.0" lengthAdjust="spacingAndGlyphs">5%</text>
<text x="287.5" y="1281.5" font-size="52.0" text-anchor="start" textLength="87.5" lengthAdjust="spacingAndGlyphs">10%</text>
<text x="636.0" y="834.5" font-size="52.0" text-anchor="start" textLength="63.5" lengthAdjust="spacingAndGlyphs">5%</text>
<text x="744.5" y="561.5" font-size="52.0" text-anchor="start" textLength="66.5" lengthAdjust="spacingAndGlyphs">2%</text>
<text x="907.5" y="330.0" font-size="52.0" text-anchor="start" textLength="60.0" lengthAdjust="spacingAndGlyphs">1%</text>
<text x="1159.5" y="302.5" font-size="52.0" text-anchor="start" textLength="102.5" lengthAdjust="spacingAndGlyphs">0.5%</text>
<text x="1567.0" y="1096.5" font-size="52.0" text-anchor="start" textLength="63.5" lengthAdjust="spacingAndGlyphs">5%</text>
<text x="2048.0" y="1093.0" font-size="52.0" text-anchor="start" textLength="65.0" lengthAdjust="spacingAndGlyphs">2%</text>
<text x="2083.0" y="1163.0" font-size="52.0" text-anchor="start" textLength="60.0" lengthAdjust="spacingAndGlyphs">1%</text>
<text transform="translate(1058.4,1918.4) scale(0.957,1)" x="0" y="0" font-size="94">La<tspan font-size="58" dy="20">N</tspan><tspan dy="-20">/Sm</tspan><tspan font-size="58" dy="20">N</tspan></text>
<text transform="translate(97.3,1049) rotate(-90) scale(0.914,1)" x="0" y="0" font-size="98">Sm<tspan font-size="59" dy="23">N</tspan><tspan dy="-23">/Yb</tspan><tspan font-size="59" dy="23">N</tspan></text>
</svg>
</body></html>
